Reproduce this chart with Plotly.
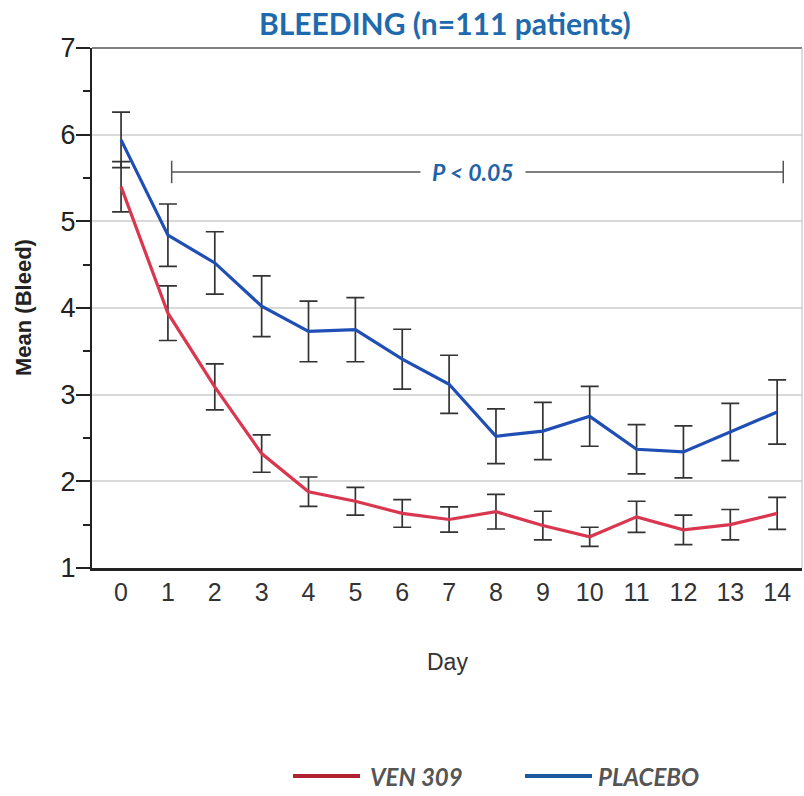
import plotly.graph_objects as go

days = list(range(15))
day_labels = [str(d) for d in days]

ven_mean = [5.40, 3.94, 3.09, 2.32, 1.88, 1.77, 1.63, 1.56, 1.65, 1.49, 1.36, 1.59, 1.44, 1.50, 1.63]
ven_err = [0.29, 0.315, 0.265, 0.215, 0.17, 0.16, 0.16, 0.145, 0.20, 0.165, 0.11, 0.18, 0.17, 0.175, 0.185]

placebo_mean = [5.94, 4.84, 4.52, 4.02, 3.73, 3.75, 3.41, 3.12, 2.52, 2.58, 2.75, 2.37, 2.34, 2.57, 2.80]
placebo_err = [0.32, 0.36, 0.36, 0.35, 0.35, 0.37, 0.345, 0.335, 0.315, 0.33, 0.345, 0.285, 0.30, 0.33, 0.37]

series_names = ["VEN 309", "PLACEBO"]
line_colors = ["#d9374f", "#1f4fb5"]
legend_colors = ["#b02232", "#1f5a9e"]

p_label = "P < 0.05"
p_start, p_end, p_level = 1.08, 14.13, 5.57

title_text = "BLEEDING (n=111 patients)"
y_title = "Mean (Bleed)"
x_title = "Day"

# plot-area pixel geometry (for placing page-level annotations)
L, R, T, B = 92, 802, 48, 568


def px_x(px):
    return (px - L) / float(R - L)


def px_y(py):
    return (B - py) / float(B - T)


fig = go.Figure()

err_style = dict(type="data", visible=True, color="#333333", thickness=1.7, width=9)

fig.add_trace(go.Scatter(
    x=days, y=placebo_mean, mode="lines", name=series_names[1],
    line=dict(color=line_colors[1], width=3.2),
    error_y=dict(array=placebo_err, **err_style), showlegend=False))
fig.add_trace(go.Scatter(
    x=days, y=ven_mean, mode="lines", name=series_names[0],
    line=dict(color=line_colors[0], width=3.2),
    error_y=dict(array=ven_err, **err_style), showlegend=False))

# significance bracket
fig.add_shape(type="line", x0=p_start, x1=p_end, y0=p_level, y1=p_level,
              line=dict(color="#555555", width=1.5), layer="above")
for xe in (p_start, p_end):
    fig.add_shape(type="line", x0=xe, x1=xe, y0=p_level - 0.13, y1=p_level + 0.13,
                  line=dict(color="#555555", width=1.5), layer="above")
fig.add_annotation(x=7.5, y=p_level, xref="x", yref="y", text="<b><i>" + p_label + "</i></b>",
                   showarrow=False, bgcolor="white", borderpad=11, xanchor="center", yanchor="middle",
                   font=dict(family="Lato", size=23, color="#1f63a8"))

# top and right border
fig.add_shape(type="line", xref="paper", yref="paper", x0=0, x1=1, y0=1, y1=1,
              line=dict(color="#555555", width=1.5))
fig.add_shape(type="line", xref="paper", yref="paper", x0=1, x1=1, y0=0, y1=1,
              line=dict(color="#bbbbbb", width=1))

# title
fig.add_annotation(x=px_x(445), y=px_y(23), xref="paper", yref="paper", text="<b>" + title_text + "</b>",
                   showarrow=False, xanchor="center", yanchor="middle",
                   font=dict(family="Lato", size=30, color="#1f6aad"))

# custom legend
legend_pos = [(293, 360, 368), (525, 592, 596)]
for name, col, (l0, l1, tx) in zip(series_names, legend_colors, legend_pos):
    fig.add_shape(type="line", xref="paper", yref="paper", x0=px_x(l0), x1=px_x(l1),
                  y0=px_y(776), y1=px_y(776), line=dict(color=col, width=4))
    fig.add_annotation(x=px_x(tx), y=px_y(776), xref="paper", yref="paper",
                       text="<b><i>" + name + "</i></b>", showarrow=False, xanchor="left", yanchor="middle",
                       font=dict(family="Lato", size=24, color="#555555"))

# x title
fig.add_annotation(x=px_x(447), y=px_y(662), xref="paper", yref="paper", text=x_title,
                   showarrow=False, xanchor="center", yanchor="middle",
                   font=dict(family="Liberation Sans", size=23, color="#333333"))

# y title
fig.add_annotation(x=px_x(23), y=px_y(308), xref="paper", yref="paper", text="<b>" + y_title + "</b>",
                   showarrow=False, xanchor="center", yanchor="middle", textangle=-90,
                   font=dict(family="Liberation Sans", size=22, color="#222222"))

fig.update_layout(
    width=804, height=796,
    margin=dict(l=L, r=804 - R, t=T, b=796 - B),
    paper_bgcolor="white", plot_bgcolor="white",
    showlegend=False,
    font=dict(family="Liberation Sans", color="#222222"),
    xaxis=dict(range=[-0.62, 14.53], tickmode="array", tickvals=days, ticktext=day_labels,
               showgrid=False, zeroline=False, showline=True, linecolor="#222222", linewidth=2.5,
               ticks="", ticklabelstandoff=0,
               tickfont=dict(family="Liberation Sans", size=25, color="#333333")),
    yaxis=dict(range=[1, 7], tickmode="array", tickvals=[1, 2, 3, 4, 5, 6, 7],
               showgrid=True, gridcolor="#d9d9d9", gridwidth=1.5, zeroline=False,
               showline=True, linecolor="#222222", linewidth=2,
               ticks="outside", ticklen=14, tickwidth=1.5, tickcolor="#222222",
               ticklabelstandoff=-5,
               minor=dict(tickvals=[1.5, 2.5, 3.5, 4.5, 5.5, 6.5], ticks="outside", ticklen=7,
                          tickwidth=1.5, tickcolor="#222222", showgrid=False),
               tickfont=dict(family="Liberation Sans", size=27, color="#222222")),
)

fig.write_html("out.html", config={"displayModeBar": False},
               post_script="document.body.style.margin='0';document.body.style.overflow='hidden';")
